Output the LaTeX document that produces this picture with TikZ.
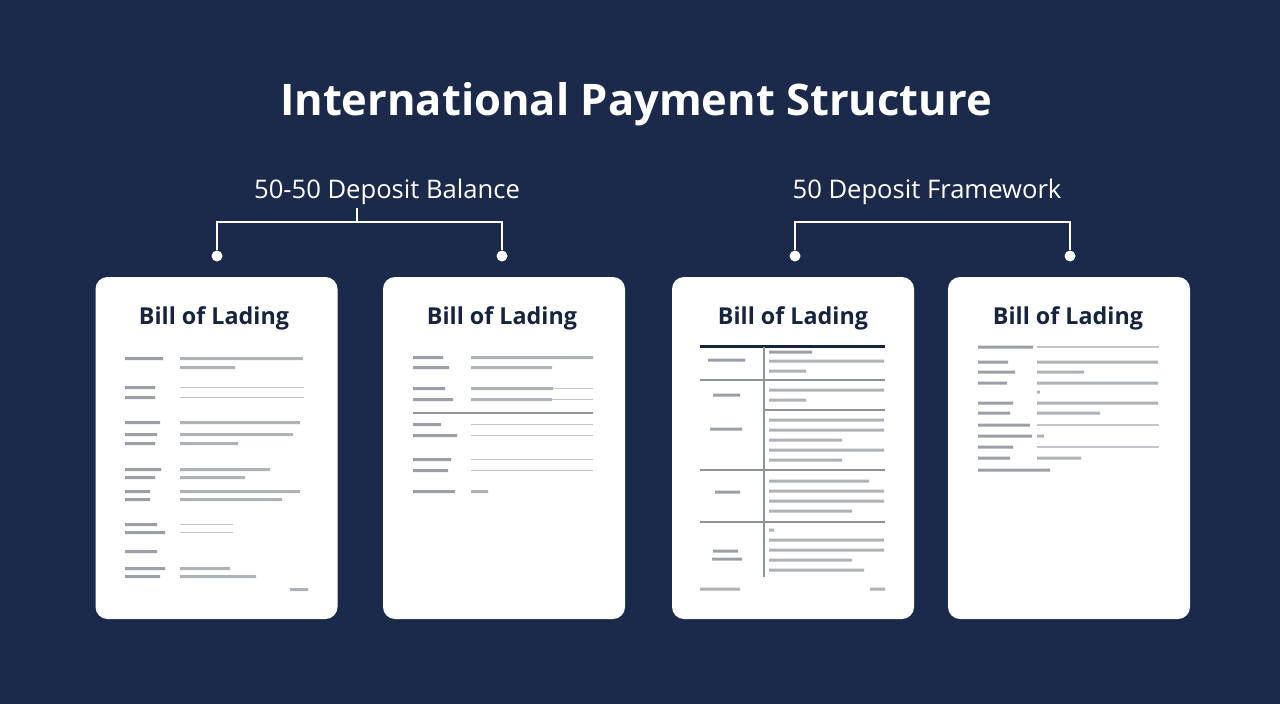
\documentclass[tikz,border=0pt]{standalone}
\usepackage{fontspec}
\setmainfont{Open Sans}
\usepackage{tikz}
\usetikzlibrary{calc}
\definecolor{navybg}{HTML}{1B2A4A}
\definecolor{inknavy}{HTML}{172440}
\definecolor{txtgray}{HTML}{AEB2B9}
\definecolor{lblgray}{HTML}{9A9FA8}
\definecolor{rulegray}{HTML}{C2C6CC}
\definecolor{tablegray}{HTML}{8E939C}

\begin{document}
\begin{tikzpicture}[x=1pt, y=-1pt,
    card/.style={fill=white, rounded corners=12pt, minimum width=242pt, minimum height=342pt, inner sep=0pt},
    heading/.style={text=inknavy, font=\fontsize{23.3}{28}\selectfont\bfseries},
    group/.style={text=white, font=\fontsize{25.6}{30}\selectfont},
    dot/.style={circle, fill=white, minimum size=11pt, inner sep=0pt},
    bracket/.style={draw=white, line width=2.6pt},
    txt/.style={fill=txtgray},
    lbl/.style={fill=lblgray},
    rule/.style={draw=rulegray, line width=1.4pt}]
    %the background
    \fill[navybg] (0,0) rectangle (1280,704);
    %the title and the groups
    \node[text=white, font=\fontsize{43.5}{50}\selectfont\bfseries] (title) at (636,104) {International Payment Structure};
    \node[group] (grpA) at (387,192) {50-50 Deposit Balance};
    \node[group] (grpB) at (927,192) {50 Deposit Framework};
    %the cards
    \node[card] (cardA) at (216.5,448) {};
    \node[card] (cardB) at (504,448) {};
    \node[card] (cardC) at (793,448) {};
    \node[card] (cardD) at (1069,448) {};
    \node[heading] (headA) at (214,318) {Bill of Lading};
    \node[heading] (headB) at (502,318) {Bill of Lading};
    \node[heading] (headC) at (793,318) {Bill of Lading};
    \node[heading] (headD) at (1068,318) {Bill of Lading};
    %the brackets
    \node[dot] (dotA) at (217,256) {};
    \node[dot] (dotB) at (502,256) {};
    \node[dot] (dotC) at (795,256) {};
    \node[dot] (dotD) at (1070,256) {};
    \coordinate (forkA) at (357,222);
    \coordinate (forkB) at (932,222);
    \draw[bracket] (forkA |- grpA.south) -- (forkA);
    \draw[bracket] (dotA) |- (forkA) -| (dotB);
    \draw[bracket] (dotC) |- (forkB) -| (dotD);
    %first card, the entries
    \fill[lbl] (125,357) rectangle (163,360) (125,386) rectangle (155,389) (125,396) rectangle (155,399)
        (125,421) rectangle (160,424) (125,433) rectangle (157,436) (125,442) rectangle (155,445)
        (125,468) rectangle (161,471) (125,476) rectangle (155,479) (125,490) rectangle (150,493)
        (125,498) rectangle (150,501) (125,523) rectangle (157,526) (125,531) rectangle (165,534)
        (125,550) rectangle (157,553) (125,567) rectangle (165,570) (125,575) rectangle (160,578);
    \fill[txt] (180,357) rectangle (303,360) (180,366) rectangle (235,369)
        (180,421) rectangle (300,424) (180,433) rectangle (293,436) (180,442) rectangle (238,445)
        (180,468) rectangle (270,471) (180,476) rectangle (245,479) (180,490) rectangle (300,493)
        (180,498) rectangle (282,501) (180,567) rectangle (230,570) (180,575) rectangle (256,578)
        (290,588) rectangle (308,591);
    \draw[rule] (180,387.5) -- (304,387.5) (180,397.5) -- (304,397.5)
        (180,524.5) -- (233,524.5) (180,532.5) -- (233,532.5);
    %second card, the entries
    \fill[lbl] (413,356) rectangle (443,359) (413,366) rectangle (449,369) (413,387) rectangle (445,390)
        (413,398) rectangle (453,401) (413,423) rectangle (441,426) (413,434) rectangle (457,437)
        (413,458) rectangle (451,461) (413,469) rectangle (448,472) (413,490) rectangle (455,493);
    \fill[txt] (471,356) rectangle (593,359) (471,366) rectangle (552,369) (471,387) rectangle (553,390)
        (471,398) rectangle (552,401) (471,490) rectangle (488,493);
    \draw[rule] (553,388.5) -- (593,388.5) (552,399.5) -- (593,399.5)
        (471,424.5) -- (593,424.5) (471,435.5) -- (593,435.5)
        (471,459.5) -- (593,459.5) (471,470.5) -- (593,470.5);
    \draw[draw=tablegray, line width=1.5pt] (413,413) -- (593,413);
    %third card, the table
    \draw[draw=inknavy, line width=3pt] (700,346) -- (885,346);
    \draw[draw=tablegray, line width=1.2pt] (764,347) -- (764,577)
        (700,380) -- (885,380) (764,410) -- (885,410) (700,470) -- (885,470) (700,522) -- (885,522);
    \fill[lbl] (708,358.5) rectangle (745,361.5) (713,393.5) rectangle (740,396.5)
        (710,427.5) rectangle (742,430.5) (715,490.5) rectangle (740,493.5)
        (713,549.5) rectangle (738,552.5) (712,557.5) rectangle (742,560.5) (769,350.5) rectangle (812,353.5);
    \fill[txt] (769,359.5) rectangle (884,362.5) (769,369.5) rectangle (806,372.5)
        (769,388.5) rectangle (884,391.5) (769,398.5) rectangle (806,401.5)
        (769,418.5) rectangle (884,421.5) (769,428.5) rectangle (884,431.5) (769,438.5) rectangle (842,441.5)
        (769,448.5) rectangle (884,451.5) (769,458.5) rectangle (842,461.5)
        (769,479.5) rectangle (869,482.5) (769,489.5) rectangle (884,492.5) (769,499.5) rectangle (884,502.5)
        (769,509.5) rectangle (852,512.5) (769,528.5) rectangle (774,531.5) (769,538.5) rectangle (884,541.5)
        (769,548.5) rectangle (884,551.5) (769,558.5) rectangle (852,561.5) (769,568.5) rectangle (864,571.5)
        (700,587.5) rectangle (740,590.5) (870,587.5) rectangle (885,590.5);
    %fourth card, the entries
    \fill[lbl] (978,345.5) rectangle (1033,348.5) (978,360.5) rectangle (1008,363.5) (978,370.5) rectangle (1015,373.5)
        (978,381.5) rectangle (1007,384.5) (978,401.5) rectangle (1013,404.5) (978,411.5) rectangle (1010,414.5)
        (978,423.5) rectangle (1030,426.5) (978,434.5) rectangle (1032,437.5) (978,445.5) rectangle (1013,448.5)
        (978,456.5) rectangle (1010,459.5) (978,468.5) rectangle (1050,471.5);
    \fill[txt] (1037,360.5) rectangle (1158,363.5) (1037,370.5) rectangle (1084,373.5)
        (1037,381.5) rectangle (1158,384.5) (1037,390.5) rectangle (1040,393.5)
        (1037,401.5) rectangle (1158,404.5) (1037,411.5) rectangle (1100,414.5)
        (1037,434.5) rectangle (1044,437.5) (1037,456.5) rectangle (1081,459.5);
    \draw[rule] (1037,347) -- (1159,347) (1037,425) -- (1159,425) (1037,447) -- (1159,447);
\end{tikzpicture}
\end{document}
